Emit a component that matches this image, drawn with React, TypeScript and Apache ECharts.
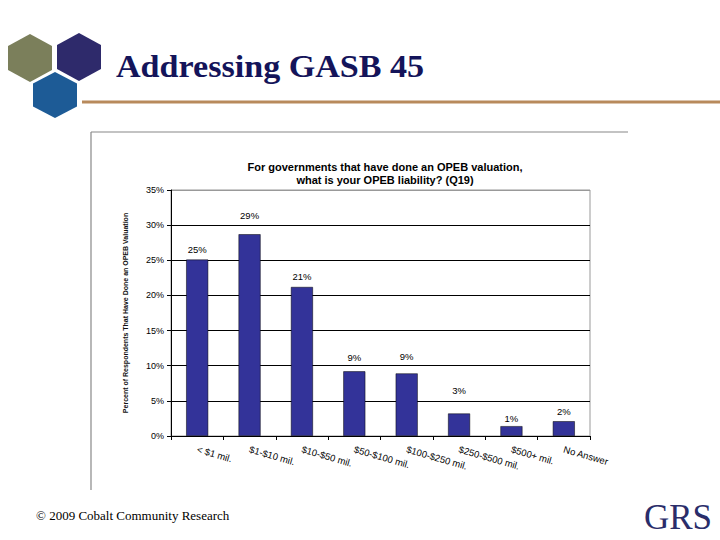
import React, { useEffect, useRef } from "react";
import * as echarts from "echarts";

const categories = [
  "< $1 mil.",
  "$1-$10 mil.",
  "$10-$50 mil.",
  "$50-$100 mil.",
  "$100-$250 mil.",
  "$250-$500 mil.",
  "$500+ mil.",
  "No Answer",
];
const values = [25.1, 28.7, 21.2, 9.2, 8.9, 3.2, 1.4, 2.1];
const labelGaps = [5, 14, 5, 9, 12, 18, 3, 5];
const yTicks = { min: 0, max: 35, interval: 5 };
const chartTitle = "For governments that have done an OPEB valuation,\nwhat is your OPEB liability? (Q19)";
const yAxisTitle = "Percent of Respondents That Have Done an OPEB Valuation";
const slideTitle = "Addressing GASB 45";
const footer = "\u00A9 2009 Cobalt Community Research";

function hex(cx: number, cy: number, hw: number, hh: number) {
  return [
    [cx, cy - hh],
    [cx + hw, cy - hh / 2],
    [cx + hw, cy + hh / 2],
    [cx, cy + hh],
    [cx - hw, cy + hh / 2],
    [cx - hw, cy - hh / 2],
  ];
}

export default function App() {
  const ref = useRef<HTMLDivElement>(null);
  useEffect(() => {
    if (!ref.current) return;
    const chart = echarts.init(ref.current, null, { renderer: "svg" });
    const gridColors = ["#000", "#000", "#000", "#000", "#000", "#000", "#000", "#999"];
    chart.setOption({
      animation: false,
      backgroundColor: "#fff",
      title: {
        text: chartTitle,
        left: 380,
        top: 155,
        textAlign: "center",
        textStyle: {
          fontFamily: "Liberation Sans, Arial",
          fontSize: 11,
          fontWeight: "bold",
          color: "#000",
          lineHeight: 13,
        },
      },
      grid: {
        left: 171,
        top: 190,
        right: 130,
        bottom: 104,
        show: true,
        borderColor: "#999",
        borderWidth: 1,
      },
      xAxis: {
        type: "category",
        data: categories,
        axisLine: { lineStyle: { color: "#000", width: 1 } },
        axisTick: { show: true, length: 4, lineStyle: { color: "#000" } },
        axisLabel: {
          interval: 0,
          rotate: -16,
          margin: 13,
          fontSize: 9.5,
          color: "#000",
          fontFamily: "Liberation Sans, Arial",
        },
      },
      yAxis: {
        type: "value",
        min: yTicks.min,
        max: yTicks.max,
        interval: yTicks.interval,
        name: yAxisTitle,
        nameLocation: "middle",
        nameGap: 42,
        nameTextStyle: {
          fontFamily: "Liberation Sans, Arial",
          fontSize: 7,
          fontWeight: "bold",
          color: "#111",
        },
        axisLine: { show: true, lineStyle: { color: "#000", width: 1 } },
        axisTick: { show: true, length: 4, lineStyle: { color: "#000" } },
        axisLabel: {
          formatter: "{value}%",
          fontSize: 9,
          color: "#000",
          margin: 7,
          fontFamily: "Liberation Sans, Arial",
        },
        splitLine: { show: true, lineStyle: { color: gridColors, width: 1 } },
      },
      series: [
        {
          type: "bar",
          data: values.map((v, i) => ({ value: v, label: { distance: labelGaps[i] } })),
          barWidth: "42%",
          itemStyle: { color: "#333399", borderColor: "#000", borderWidth: 0.5 },
          label: {
            show: true,
            position: "top",
            fontSize: 9.5,
            color: "#000",
            fontFamily: "Liberation Sans, Arial",
            formatter: (p: any) => `${Math.round(p.value)}%`,
          },
        },
      ],
      graphic: [
        { type: "polygon", shape: { points: hex(30, 58, 22, 24) }, style: { fill: "#7b7f5b" } },
        { type: "polygon", shape: { points: hex(79, 57, 22, 24) }, style: { fill: "#2e2a6b" } },
        { type: "polygon", shape: { points: hex(55, 95, 22, 23) }, style: { fill: "#1d5b96" } },
        {
          type: "line",
          shape: { x1: 82, y1: 102, x2: 720, y2: 102 },
          style: { stroke: "#b88a5c", lineWidth: 3 },
        },
        {
          type: "text",
          x: 116,
          y: 67,
          scaleX: 1.1,
          style: {
            text: slideTitle,
            font: 'bold 31px "Liberation Serif", serif',
            fill: "#14145a",
            verticalAlign: "middle",
            align: "left",
          },
        },
        {
          type: "line",
          shape: { x1: 91, y1: 132, x2: 628, y2: 132 },
          style: { stroke: "#888", lineWidth: 1.2 },
        },
        {
          type: "line",
          shape: { x1: 91, y1: 132, x2: 91, y2: 490 },
          style: { stroke: "#888", lineWidth: 1.2 },
        },
        {
          type: "text",
          x: 36,
          y: 515,
          style: {
            text: footer,
            font: '13px "Liberation Serif", serif',
            fill: "#000",
            verticalAlign: "middle",
            align: "left",
          },
        },
        {
          type: "text",
          x: 712,
          y: 517,
          style: {
            text: "GRS",
            font: '35px "Liberation Serif", serif',
            fill: "#2a2d6a",
            verticalAlign: "middle",
            align: "right",
          },
        },
      ],
    });
    return () => chart.dispose();
  }, []);
  return (
    <div
      ref={ref}
      style={{ position: "fixed", left: 0, top: 0, width: 720, height: 540, background: "#fff" }}
    />
  );
}
